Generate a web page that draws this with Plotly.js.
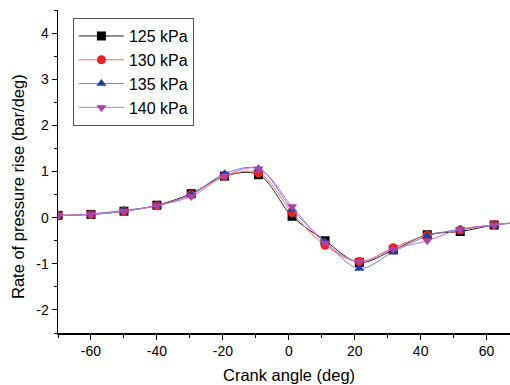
<!DOCTYPE html>
<html>
<head>
<meta charset="utf-8">
<script src="https://cdn.plot.ly/plotly-3.0.1.min.js"></script>
<style>html,body{margin:0;padding:0;background:#fff;}#chart{width:510px;height:385px;}</style>
</head>
<body>
<div id="chart"></div>
<script>
var crankAngle = [-70, -60, -50, -40, -29.6, -19.5, -9.2, 1, 11, 21.4, 31.7, 42, 52, 62.3, 70];
var p125 = [0.05, 0.07, 0.14, 0.27, 0.52, 0.9, 0.93, 0.03, -0.5, -0.97, -0.7, -0.37, -0.3, -0.16, -0.1];
var p130 = [0.05, 0.07, 0.14, 0.26, 0.5, 0.9, 0.97, 0.11, -0.6, -0.95, -0.65, -0.38, -0.27, -0.15, -0.1];
var p135 = [0.04, 0.08, 0.16, 0.26, 0.5, 0.95, 1.06, 0.18, -0.52, -1.1, -0.74, -0.4, -0.25, -0.16, -0.1];
var p140 = [0.05, 0.07, 0.14, 0.26, 0.46, 0.9, 1.06, 0.24, -0.55, -0.95, -0.68, -0.5, -0.25, -0.16, -0.1];
var seriesNames = ["125 kPa", "130 kPa", "135 kPa", "140 kPa"];
var xTickVals = [-60, -40, -20, 0, 20, 40, 60];
var xTickText = ["-60", "-40", "-20", "0", "20", "40", "60"];
var yTickVals = [-2, -1, 0, 1, 2, 3, 4];
var yTickText = ["-2", "-1", "0", "1", "2", "3", "4"];

var styles = [
  {line: "#222222", marker: "#000000", symbol: "square"},
  {line: "#f07050", marker: "#ee2020", symbol: "circle"},
  {line: "#7080d0", marker: "#2040a0", symbol: "triangle-up"},
  {line: "#d070d0", marker: "#b040a8", symbol: "triangle-down"}
];
var allY = [p125, p130, p135, p140];
var traces = allY.map(function (ys, i) {
  return {
    x: crankAngle, y: ys, name: seriesNames[i], type: "scatter", mode: "lines+markers",
    line: {color: styles[i].line, width: 1, shape: "spline", smoothing: 1},
    marker: {color: styles[i].marker, symbol: styles[i].symbol, size: 9}
  };
});

var layout = {
  width: 510, height: 385,
  margin: {l: 58, r: 0, t: 10, b: 52},
  paper_bgcolor: "#fff", plot_bgcolor: "#fff",
  font: {family: "Liberation Sans, Arial, sans-serif", color: "#000"},
  showlegend: true,
  legend: {
    x: 0.033, y: 0.975, xanchor: "left", yanchor: "top",
    bordercolor: "#555", borderwidth: 1, bgcolor: "#fff",
    font: {size: 16}, itemwidth: 45, tracegroupgap: 0
  },
  xaxis: {
    range: [-70, 67.1], tickvals: xTickVals, ticktext: xTickText,
    ticks: "outside", ticklen: 5, tickwidth: 1, tickcolor: "#000",
    minor: {tickvals: [-70, -50, -30, -10, 10, 30, 50], ticks: "outside", ticklen: 3, tickcolor: "#000"},
    showline: true, linecolor: "#000", linewidth: 1.5, showgrid: false, zeroline: false,
    tickfont: {size: 14}
  },
  yaxis: {
    range: [-2.5, 4.5], tickvals: yTickVals, ticktext: yTickText,
    ticks: "outside", ticklen: 5, tickwidth: 1, tickcolor: "#000",
    minor: {tickvals: [-2.5, -1.5, -0.5, 0.5, 1.5, 2.5, 3.5, 4.5], ticks: "outside", ticklen: 3, tickcolor: "#000"},
    showline: true, linecolor: "#000", linewidth: 1.5, showgrid: false, zeroline: false,
    tickfont: {size: 14}
  },
  annotations: [
    {text: "Crank angle (deg)", xref: "paper", yref: "paper", x: 0.511, y: -0.13,
     xanchor: "center", yanchor: "middle", showarrow: false, font: {size: 16.5}},
    {text: "Rate of pressure rise (bar/deg)", xref: "paper", yref: "paper", x: -0.0885, y: 0.455,
     xanchor: "center", yanchor: "middle", textangle: -90, showarrow: false, font: {size: 16.5}}
  ]
};
Plotly.newPlot("chart", traces, layout, {staticPlot: true, displayModeBar: false});
</script>
</body>
</html>
